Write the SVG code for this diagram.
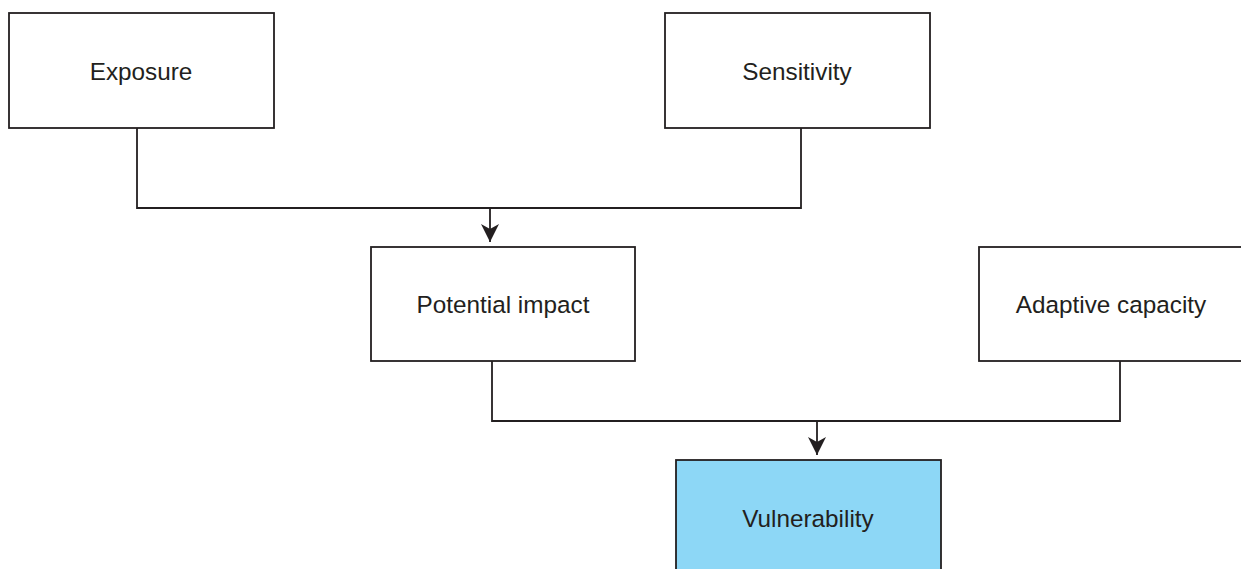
<svg xmlns="http://www.w3.org/2000/svg" width="1241" height="569" viewBox="0 0 1241 569">
<style>
.box{fill:#fff;stroke:#231f20;stroke-width:1.8}
.hl{fill:#8dd7f6}
.lbl{font-family:"Liberation Sans",Arial,sans-serif;font-size:24.3px;fill:#231f20;text-anchor:middle;dominant-baseline:central}
.con{fill:none;stroke:#231f20;stroke-width:1.8}
</style>
<defs>
<marker id="arr" markerUnits="userSpaceOnUse" markerWidth="20" markerHeight="20" viewBox="0 0 20 20" refX="18" refY="10" orient="auto">
<path d="M0,1 L18,10 L0,19 L5,10 Z" fill="#231f20"/>
</marker>
</defs>
<g id="connectors">
<path class="con" d="M137,128 V208 H801 V128"/>
<path class="con" d="M490,208 V242" marker-end="url(#arr)"/>
<path class="con" d="M492,361 V421 H1120 V361"/>
<path class="con" d="M817,421 V455" marker-end="url(#arr)"/>
</g>
<g id="exposure"><rect class="box" x="9" y="13" width="265" height="115"/><text class="lbl" x="141" y="71">Exposure</text></g>
<g id="sensitivity"><rect class="box" x="665" y="13" width="265" height="115"/><text class="lbl" x="797" y="71">Sensitivity</text></g>
<g id="potential-impact"><rect class="box" x="371" y="247" width="264" height="114"/><text class="lbl" x="503" y="304">Potential impact</text></g>
<g id="adaptive-capacity"><rect class="box" x="979" y="247" width="265" height="114"/><text class="lbl" x="1111" y="304">Adaptive capacity</text></g>
<g id="vulnerability"><rect class="box hl" x="676" y="460" width="265" height="115"/><text class="lbl" x="808" y="518">Vulnerability</text></g>
</svg>
